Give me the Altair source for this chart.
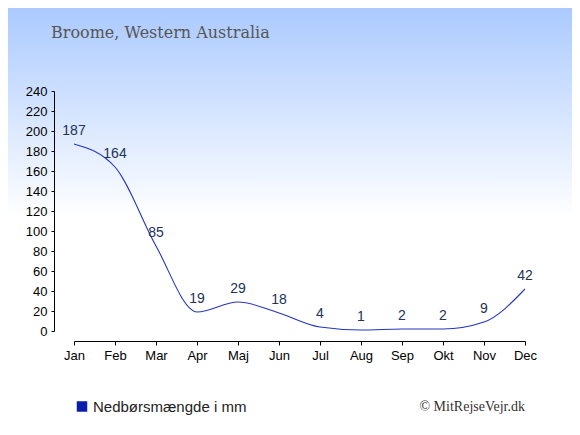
import altair as alt
import pandas as pd

months = ["Jan", "Feb", "Mar", "Apr", "Maj", "Jun", "Jul", "Aug", "Sep", "Okt", "Nov", "Dec"]
rain = [187, 164, 85, 19, 29, 18, 4, 1, 2, 2, 9, 42]
y_ticks = list(range(0, 241, 20))
title_text = "Broome, Western Australia"
legend_text = "Nedbørsmængde i mm"
credit_text = "© MitRejseVejr.dk"

df = pd.DataFrame({"month": months, "rain": rain})

W, H = 451, 240
PAD = {"left": 66, "top": 83, "right": 47, "bottom": 96}

x_enc = alt.X(
    "month:N", sort=months,
    scale=alt.Scale(type="point", padding=0),
    axis=alt.Axis(title=None, labelAngle=0, offset=10, domainColor="#000000",
                  tickColor="#000000", tickSize=4, labelFont="Liberation Sans",
                  labelFontSize=13, labelColor="#000000", labelPadding=4,
                  grid=False, zindex=1),
)
y_enc = alt.Y(
    "rain:Q",
    scale=alt.Scale(domain=[0, 240], nice=False, zero=True),
    axis=alt.Axis(title=None, values=y_ticks, offset=20, domainColor="#000000",
                  tickColor="#000000", tickSize=3, labelFont="Liberation Sans",
                  labelFontSize=13, labelColor="#000000", labelPadding=4,
                  grid=False, zindex=1),
)

bg = alt.Chart(pd.DataFrame({"a": [0]})).mark_rect(
    color=alt.Gradient(
        gradient="linear",
        stops=[alt.GradientStop(color="#abcaff", offset=0),
               alt.GradientStop(color="#ffffff", offset=0.5),
               alt.GradientStop(color="#ffffff", offset=1)],
        x1=0, x2=0, y1=0, y2=1,
    )
).encode(x=alt.value(-PAD["left"]), x2=alt.value(W + PAD["right"]),
         y=alt.value(-PAD["top"]), y2=alt.value(H + PAD["bottom"]))

base = alt.Chart(df).encode(x=x_enc, y=y_enc)
line = base.mark_line(interpolate="monotone", color="#2436c0", strokeWidth=1.1)
labels = base.mark_text(dy=-9, baseline="alphabetic", align="center", fontSize=14,
                        font="Liberation Sans", color="#223355").encode(text="rain:Q")

title = alt.Chart(pd.DataFrame({"t": [title_text]})).mark_text(
    align="left", baseline="alphabetic", font="DejaVu Serif", fontSize=16, color="#555555"
).encode(x=alt.value(-23), y=alt.value(-53), text="t:N")

legend_sq = alt.Chart(pd.DataFrame({"a": [0]})).mark_square(
    size=110, color="#0b1bab", opacity=1
).encode(x=alt.value(8), y=alt.value(315.5))

legend_tx = alt.Chart(pd.DataFrame({"t": [legend_text]})).mark_text(
    align="left", baseline="alphabetic", font="Liberation Sans", fontSize=15, color="#222222"
).encode(x=alt.value(19), y=alt.value(320.5), text="t:N")

credit = alt.Chart(pd.DataFrame({"t": [credit_text]})).mark_text(
    align="right", baseline="alphabetic", font="Liberation Serif", fontSize=14, color="#333333"
).encode(x=alt.value(451), y=alt.value(320), text="t:N")

chart = alt.layer(bg, line, labels, title, legend_sq, legend_tx, credit).properties(
    width=W, height=H,
    padding=PAD,
    autosize=alt.AutoSizeParams(type="none"),
    background="#ffffff",
).configure_view(stroke=None)

chart.save("out.html", embed_options={"renderer": "svg", "actions": False})
